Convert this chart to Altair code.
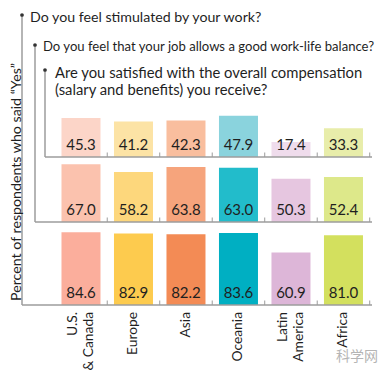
import altair as alt
import pandas as pd

# ---------------- data ----------------
regions = ["U.S.\n& Canada", "Europe", "Asia", "Oceania", "Latin\nAmerica", "Africa"]
questions = [
    "Do you feel stimulated by your work?",
    "Do you feel that your job allows a good work-life balance?",
    "Are you satisfied with the overall compensation\n(salary and benefits) you receive?",
]
stimulated = [84.6, 82.9, 82.2, 83.6, 60.9, 81.0]
worklife = [67.0, 58.2, 63.8, 63.0, 50.3, 52.4]
compensation = [45.3, 41.2, 42.3, 47.9, 17.4, 33.3]

colors_stimulated = ["#FBAE9C", "#FDCB4E", "#F38B55", "#00AFC2", "#DDB6D8", "#D3E05E"]
colors_worklife = ["#FBC2AE", "#FDD77C", "#F6A47C", "#22BCCB", "#E6C6E0", "#DDE88A"]
colors_compensation = ["#FCD5C8", "#FCE3A5", "#F9BE9E", "#8AD3DD", "#EFDCEC", "#E8EDAA"]

y_title = "Percent of respondents who said \u201cYes\u201d"
watermark = "科学网"

# ---------------- layout ----------------
PAD_L, PAD_T, PAD_R, PAD_B = 14, 0, 10, 65
W = 390 - 16 - PAD_L - PAD_R
H = 378 - 16 - PAD_T - PAD_B
K = 0.861  # px per percent unit
Y_MAX = H / K
BOTTOM_PAGE = 8 + PAD_T + H


def px(page_x):
    return page_x - 8 - PAD_L


def py(page_y):
    return page_y - 8 - PAD_T


def base_units(page_baseline):
    return (BOTTOM_PAGE - page_baseline) / K


panels = [
    dict(q=questions[0], vals=stimulated, cols=colors_stimulated, bl=BOTTOM_PAGE, bx=22, bt=15,
         tx=30, ty=17.5, fs=14.2),
    dict(q=questions[1], vals=worklife, cols=colors_worklife, bl=222, bx=35, bt=45,
         tx=43, ty=47, fs=13.1),
    dict(q=questions[2], vals=compensation, cols=colors_compensation, bl=157, bx=45, bt=70,
         tx=55, ty=74, fs=14.8),
]

rows = []
for p in panels:
    b = base_units(p["bl"])
    for r, v, c in zip(regions, p["vals"], p["cols"]):
        rows.append(dict(region=r, question=p["q"], value=v, base=b, top=b + v, color=c,
                         tick_top=b + 4.5 / K))
df = pd.DataFrame(rows)

FONT = "Lato"
TXT = "#1f1f1f"
GRAY = "#9c9c9c"

xscale = alt.Scale(domain=regions, paddingInner=0.257, paddingOuter=0.462, align=0.814)
yscale = alt.Scale(domain=[0, Y_MAX], nice=False, zero=True)
X = alt.X("region:N", sort=regions, scale=xscale, axis=None)

base = alt.Chart(df)

bars = base.mark_bar().encode(
    x=X,
    y=alt.Y("top:Q", scale=yscale, axis=None),
    y2="base:Q",
    color=alt.Color("color:N", scale=None),
)

labels = base.mark_text(dy=-12, fontSize=15, font=FONT, color=TXT, baseline="middle").encode(
    x=X,
    y=alt.Y("base:Q", scale=yscale, axis=None),
    text=alt.Text("value:Q", format=".1f"),
)

ticks = base.mark_rule(color=GRAY, strokeWidth=1, xOffset=26.25).encode(
    x=X,
    y=alt.Y("base:Q", scale=yscale, axis=None),
    y2="tick_top:Q",
)

layers = [bars, ticks, labels]

for p in panels:
    bdf = pd.DataFrame({"base": [base_units(p["bl"])]})
    layers.append(
        alt.Chart(bdf).mark_rule(color=GRAY, strokeWidth=1.5).encode(
            x=alt.value(px(p["bx"])), x2=alt.value(W),
            y=alt.Y("base:Q", scale=yscale, axis=None),
        )
    )
    layers.append(
        alt.Chart(bdf).mark_rule(color=GRAY, strokeWidth=1.5).encode(
            x=alt.value(px(p["bx"])),
            y=alt.Y("base:Q", scale=yscale, axis=None),
            y2=alt.value(py(p["bt"])),
        )
    )
    layers.append(
        alt.Chart(bdf).mark_circle(color="#333333", size=14, opacity=1).encode(
            x=alt.value(px(p["bx"])), y=alt.value(py(p["bt"])),
        )
    )
    layers.append(
        alt.Chart(bdf).mark_text(
            align="left", baseline="middle", fontSize=p["fs"], font=FONT, color=TXT,
            lineBreak="\n", lineHeight=16.5,
        ).encode(
            x=alt.value(px(p["tx"])), y=alt.value(py(p["ty"])), text=alt.value(p["q"]),
        )
    )

single = [r for r in regions if "\n" not in r]
double = [r for r in regions if "\n" in r]
for subset, shift in ((single, 0), (double, -8)):
    layers.append(
        alt.Chart(pd.DataFrame({"region": subset})).mark_text(
            angle=270, align="right", baseline="middle", fontSize=13.8, font=FONT, color=TXT,
            lineBreak="\n", lineHeight=16, dy=shift,
        ).encode(x=X, y=alt.value(py(312)), text="region:N")
    )

ytitle = alt.Chart(pd.DataFrame({"t": [y_title]})).mark_text(
    angle=270, align="center", baseline="middle", fontSize=14.2, font=FONT, color=TXT,
).encode(x=alt.value(px(17)), y=alt.value(py(182)), text="t:N")
layers.append(ytitle)

wm = alt.Chart(pd.DataFrame({"t": [watermark]})).mark_text(
    align="center", baseline="middle", fontSize=14, font="Noto Sans CJK SC", color="#b5b5b5",
).encode(x=alt.value(px(357)), y=alt.value(py(357)), text="t:N")
layers.append(wm)

chart = alt.layer(*layers).properties(
    width=W, height=H,
    autosize=alt.AutoSizeParams(type="none"),
    padding={"left": PAD_L, "top": PAD_T, "right": PAD_R, "bottom": PAD_B},
).configure_view(stroke=None)

chart.save("out.html", embed_options={"renderer": "svg", "actions": False})
